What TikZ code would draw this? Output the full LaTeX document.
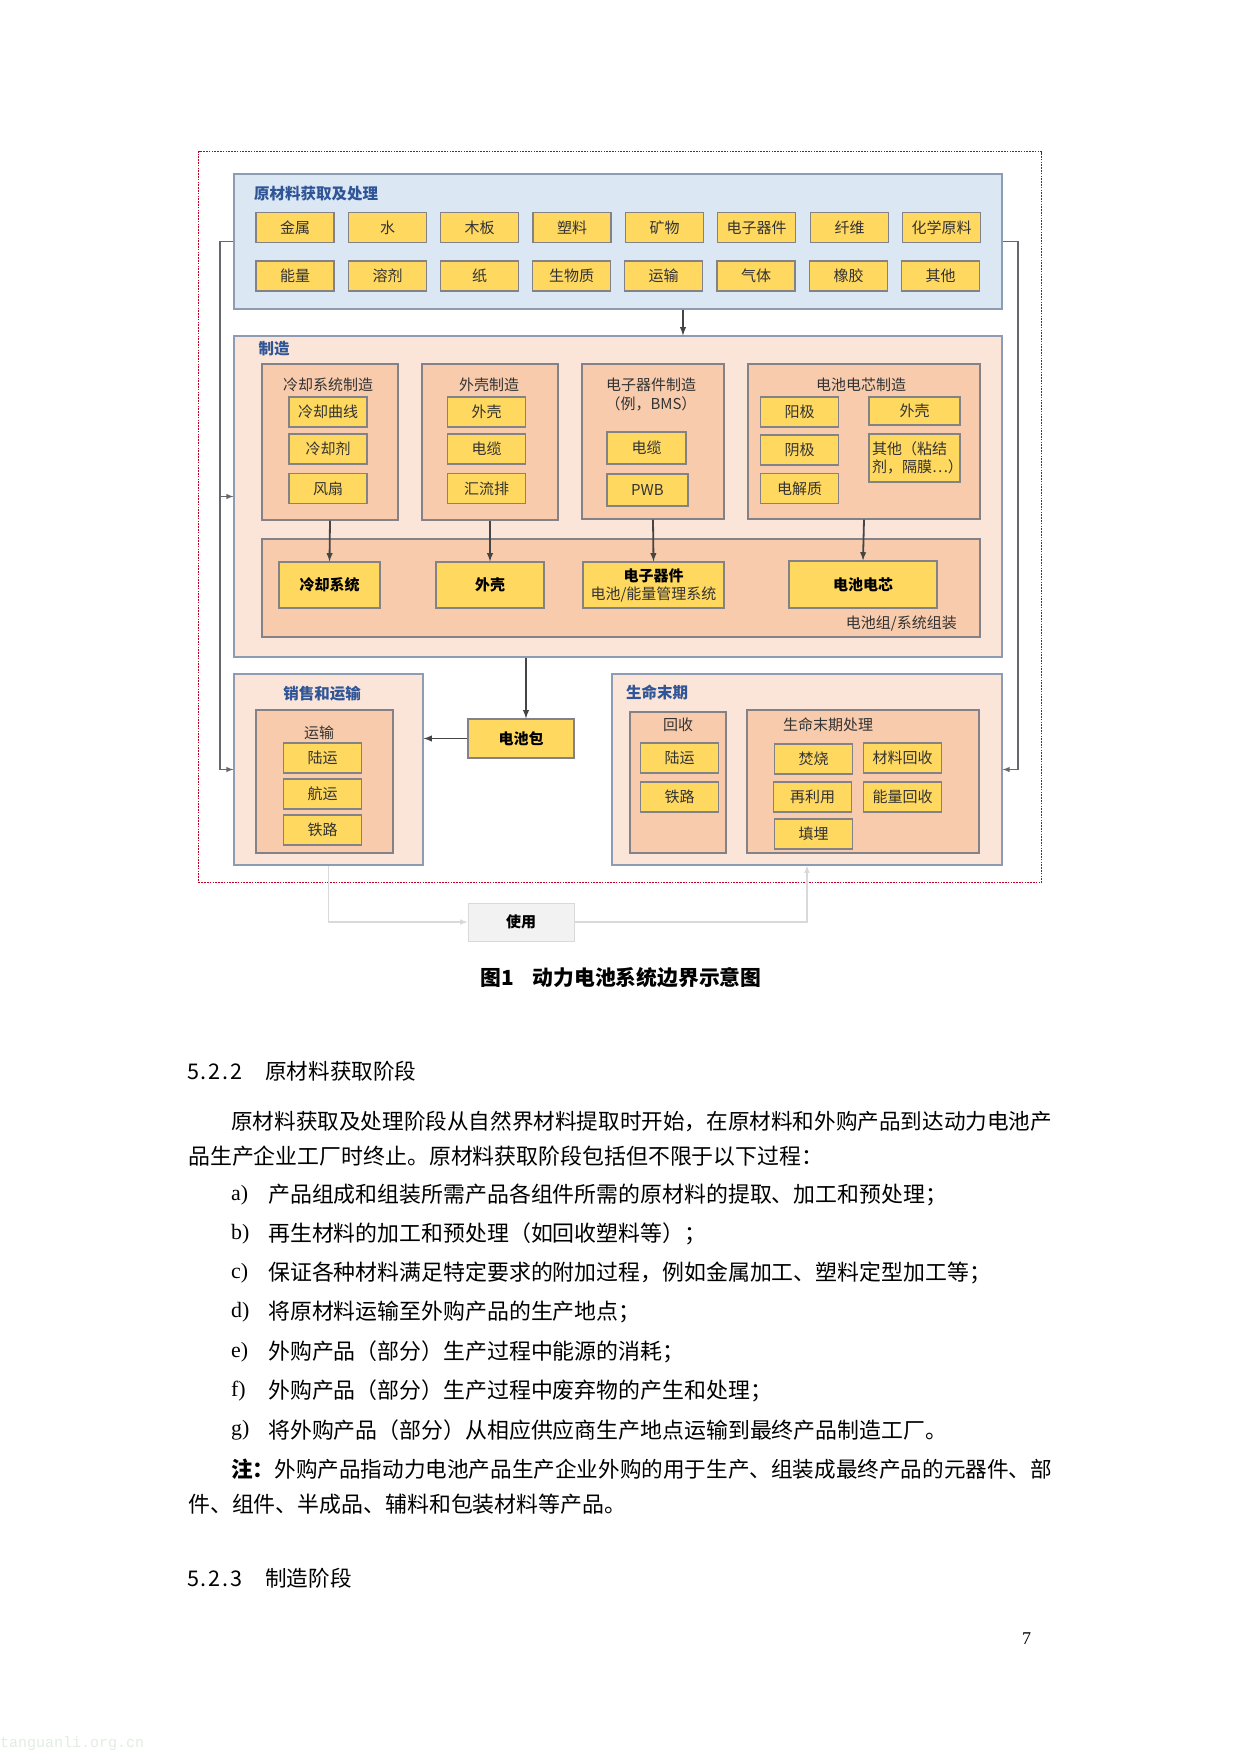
\documentclass[tikz,border=0pt]{standalone}
\usepackage{fontspec}
\setmainfont{Noto Sans CJK SC}
\newfontfamily\latinbody{Liberation Serif}
\newfontfamily\markfont{Liberation Mono}

\definecolor{rawfill}{HTML}{DCE7F4}
\definecolor{stagefill}{HTML}{FBE5D8}
\definecolor{innerfill}{HTML}{F7CBAC}
\definecolor{itemfill}{HTML}{FFD85F}
\definecolor{rimblue}{HTML}{8E9CB3}
\definecolor{rimgray}{HTML}{828288}
\definecolor{titleblue}{HTML}{2F5597}
\definecolor{textdark}{HTML}{333333}
\definecolor{linedark}{HTML}{454545}
\definecolor{sidedark}{HTML}{66666C}
\definecolor{usefill}{HTML}{F2F2F2}
\definecolor{userim}{HTML}{D9D9D9}
\definecolor{boundred}{HTML}{C00022}

\tikzset{
    outerbox/.style={draw=rimblue,line width=1.2pt,inner sep=0pt,minimum width=#1},
    innerbox/.style={draw=rimgray,line width=1.2pt,fill=innerfill,inner sep=0pt},
    itembox/.style={draw=rimgray,line width=1.2pt,fill=itemfill,inner sep=0pt,text=textdark,minimum width=78pt,minimum height=30pt,font=\fontsize{15}{18}\selectfont},
    partbox/.style={itembox,text=black,font=\fontsize{15}{18}\selectfont\bfseries},
    headlabel/.style={text=titleblue,inner sep=0pt,font=\fontsize{15.5}{18}\selectfont\bfseries},
    sublabel/.style={text=textdark,inner sep=0pt,align=center,font=\fontsize{15}{19}\selectfont},
    bodyline/.style={anchor=west,inner sep=0pt,yshift=-1pt,text=black,font=\fontsize{21.9}{26}\selectfont},
    mainflow/.style={-latex,draw=linedark,line width=1.8pt},
    sideflow/.style={-latex,draw=sidedark,line width=1.4pt},
    useflow/.style={-latex,draw=userim,line width=1.5pt},
}

\begin{document}
\begin{tikzpicture}[x=1pt,y=-1pt]
    \useasboundingbox (0,0) rectangle (1240,1753);

    % system boundary
    \node[draw=boundred,dash pattern=on 1.6pt off 1.2pt,line width=1.8pt,inner sep=0pt,minimum width=843pt,minimum height=731pt](bound)at(620,517){};

    % raw materials
    \node[outerbox=768pt,fill=rawfill,minimum height=135pt](raw)at(618,241.5){};
    \node[headlabel,anchor=west](rawhead)at(254,194){原材料获取及处理};
    \node[itembox](m1)at(295,227.5){金属};
    \node[itembox](m2)at(387.5,227.5){水};
    \node[itembox](m3)at(479.5,227.5){木板};
    \node[itembox](m4)at(572,227.5){塑料};
    \node[itembox](m5)at(664.5,227.5){矿物};
    \node[itembox](m6)at(756.5,227.5){电子器件};
    \node[itembox](m7)at(849.5,227.5){纤维};
    \node[itembox](m8)at(941.5,227.5){化学原料};
    \node[itembox](n1)at(295,276){能量};
    \node[itembox](n2)at(387.5,276){溶剂};
    \node[itembox](n3)at(479.5,276){纸};
    \node[itembox](n4)at(571.5,276){生物质};
    \node[itembox](n5)at(663.5,276){运输};
    \node[itembox](n6)at(756,276){气体};
    \node[itembox](n7)at(848.5,276){橡胶};
    \node[itembox](n8)at(940.5,276){其他};

    % manufacturing
    \node[outerbox=768pt,fill=stagefill,minimum height=321pt](make)at(618,496.5){};
    \node[headlabel](makehead)at(274,349){制造};
    \node[innerbox,minimum width=136pt,minimum height=156pt](coolmake)at(330,442){};
    \node[innerbox,minimum width=136pt,minimum height=156pt](shellmake)at(490,442){};
    \node[innerbox,minimum width=142pt,minimum height=155pt](elecmake)at(653,441.5){};
    \node[innerbox,minimum width=232pt,minimum height=155pt](cellmake)at(864,441.5){};
    \node[sublabel](coolhead)at(328,385){冷却系统制造};
    \node[sublabel](shellhead)at(489,385){外壳制造};
    \node[sublabel](elechead)at(651,394.5){电子器件制造\\（例，BMS）};
    \node[sublabel](cellhead)at(861,385){电池电芯制造};
    \node[itembox](curve)at(328,412){冷却曲线};
    \node[itembox](coolant)at(328,449){冷却剂};
    \node[itembox](fan)at(328,488.5){风扇};
    \node[itembox](shella)at(486.5,412){外壳};
    \node[itembox](cablea)at(486.5,449){电缆};
    \node[itembox](busbar)at(486.5,488.5){汇流排};
    \node[itembox,minimum width=79pt,minimum height=32pt](cableb)at(646.5,448){电缆};
    \node[itembox,minimum width=81pt,minimum height=32pt](pwb)at(647.5,490){PWB};
    \node[itembox](anode)at(799.5,412){阳极};
    \node[itembox](cathode)at(799.5,450){阴极};
    \node[itembox](electrolyte)at(799.5,488.5){电解质};
    \node[itembox,minimum width=91pt,minimum height=28pt](shellb)at(914.5,411){外壳};
    \node[itembox,minimum width=91pt,minimum height=48pt,align=left,text width=85pt](others)at(914.5,458){其他（粘结\\剂，隔膜…）};

    % assembly
    \node[innerbox,minimum width=718pt,minimum height=98pt](pack)at(621,588){};
    \node[partbox,minimum width=101pt,minimum height=46pt](coolsys)at(329.5,585){冷却系统};
    \node[partbox,minimum width=108pt,minimum height=46pt](shellsys)at(490,585){外壳};
    \node[itembox,minimum width=141pt,minimum height=46pt,align=center](elecsys)at(653.5,585){{\bfseries\color{black}电子器件}\\电池/能量管理系统};
    \node[partbox,minimum width=148pt,minimum height=47pt](cellsys)at(863,584.5){电池电芯};
    \node[sublabel,anchor=east](packhead)at(957,624){电池组/系统组装};

    % sales and transport
    \node[partbox,minimum width=106pt,minimum height=39pt](batt)at(521,738.5){电池包};
    \node[outerbox=189pt,fill=stagefill,minimum height=191pt](sale)at(328.5,769.5){};
    \node[headlabel](salehead)at(322,694){销售和运输};
    \node[innerbox,minimum width=137pt,minimum height=143pt](trans)at(324.5,781.5){};
    \node[sublabel](transhead)at(319,733){运输};
    \node[itembox](landa)at(322.5,758){陆运};
    \node[itembox](ship)at(322.5,794){航运};
    \node[itembox](raila)at(322.5,830){铁路};

    % end of life
    \node[outerbox=390pt,fill=stagefill,minimum height=191pt](eol)at(807,769.5){};
    \node[headlabel,anchor=west](eolhead)at(626,692){生命末期};
    \node[innerbox,minimum width=96pt,minimum height=141pt](recover)at(678,782.5){};
    \node[sublabel](recoverhead)at(678,725){回收};
    \node[itembox](landb)at(679.5,758){陆运};
    \node[itembox](railb)at(679.5,797){铁路};
    \node[innerbox,minimum width=232pt,minimum height=143pt](treat)at(863,781.5){};
    \node[sublabel](treathead)at(828,725){生命末期处理};
    \node[itembox](burn)at(813.5,759){焚烧};
    \node[itembox](matback)at(902.5,758){材料回收};
    \node[itembox](reuse)at(812.5,797){再利用};
    \node[itembox](enback)at(902.5,797){能量回收};
    \node[itembox](landfill)at(813.5,834){填埋};

    % use
    \node[draw=userim,line width=1pt,fill=usefill,inner sep=0pt,text=black,font=\fontsize{15}{18}\selectfont\bfseries,minimum width=106pt,minimum height=38pt](use)at(521,922){使用};

    % connectors
    \coordinate (railleft) at (220,500);
    \coordinate (railright) at (1018,500);
    \draw[mainflow] ([xshift=65pt]raw.south)--([xshift=65pt]make.north);
    \draw[mainflow] (coolmake.south)--(coolsys.north);
    \draw[mainflow] (shellmake.south)--(shellsys.north);
    \draw[mainflow] (elecmake.south)--(elecsys.north);
    \draw[mainflow] (cellmake.south)--(cellsys.north);
    \draw[mainflow] ([xshift=-92pt]make.south)--([xshift=5pt]batt.north);
    \draw[mainflow] (batt.west)--(batt.west-|sale.east);
    \draw[sideflow] (raw.west)-|(railleft)|-(sale.west);
    \draw[sideflow] (railleft|-make.west)--(make.west);
    \draw[sideflow] (raw.east)-|(railright)|-(eol.east);
    \draw[useflow] (sale.south)|-(use.west);
    \draw[useflow] (use.east)-|(eol.south);

    % caption
    \node[anchor=west,inner sep=0pt,text=black,font=\fontsize{20.8}{24}\selectfont\bfseries](caption)at(480,978){图1\hspace{19pt}动力电池系统边界示意图};

    % page text
    \node[bodyline,font=\fontsize{21.6}{26}\selectfont](sec1)at(187,1070){\makebox[78pt][l]{\addfontfeature{LetterSpace=8}5.2.2}原材料获取阶段};
    \node[bodyline,font=\fontsize{21.6}{26}\selectfont](p1)at(231,1120){原材料获取及处理阶段从自然界材料提取时开始，在原材料和外购产品到达动力电池产};
    \node[bodyline](p2)at(188,1155){品生产企业工厂时终止。原材料获取阶段包括但不限于以下过程：};
    \node[bodyline](la)at(231,1194){\latinbody a)};
    \node[bodyline](ta)at(268,1194){产品组成和组装所需产品各组件所需的原材料的提取、加工和预处理；};
    \node[bodyline](lb)at(231,1233){\latinbody b)};
    \node[bodyline](tb)at(268,1233){再生材料的加工和预处理（如回收塑料等）；};
    \node[bodyline](lc)at(231,1272){\latinbody c)};
    \node[bodyline](tc)at(268,1272){保证各种材料满足特定要求的附加过程，例如金属加工、塑料定型加工等；};
    \node[bodyline](ld)at(231,1311){\latinbody d)};
    \node[bodyline](td)at(268,1311){将原材料运输至外购产品的生产地点；};
    \node[bodyline](le)at(231,1351){\latinbody e)};
    \node[bodyline](te)at(268,1351){外购产品（部分）生产过程中能源的消耗；};
    \node[bodyline](lf)at(231,1390){\latinbody f)};
    \node[bodyline](tf)at(268,1390){外购产品（部分）生产过程中废弃物的产生和处理；};
    \node[bodyline](lg)at(231,1429){\latinbody g)};
    \node[bodyline](tg)at(268,1429){将外购产品（部分）从相应供应商生产地点运输到最终产品制造工厂。};
    \node[bodyline,font=\fontsize{21.6}{26}\selectfont](note)at(231,1468){{\bfseries 注：}外购产品指动力电池产品生产企业外购的用于生产、组装成最终产品的元器件、部};
    \node[bodyline](notes)at(188,1503){件、组件、半成品、辅料和包装材料等产品。};
    \node[bodyline,font=\fontsize{21.6}{26}\selectfont](sec2)at(187,1577){\makebox[78pt][l]{\addfontfeature{LetterSpace=8}5.2.3}制造阶段};
    \node[anchor=west,inner sep=0pt,text=black,font=\latinbody\fontsize{18}{22}\selectfont](pageno)at(1022,1639){7};
    \node[anchor=west,inner sep=0pt,text=green!40!black!12,font=\markfont\fontsize{15}{18}\selectfont](mark)at(0,1744){tanguanli.org.cn};
\end{tikzpicture}
\end{document}
